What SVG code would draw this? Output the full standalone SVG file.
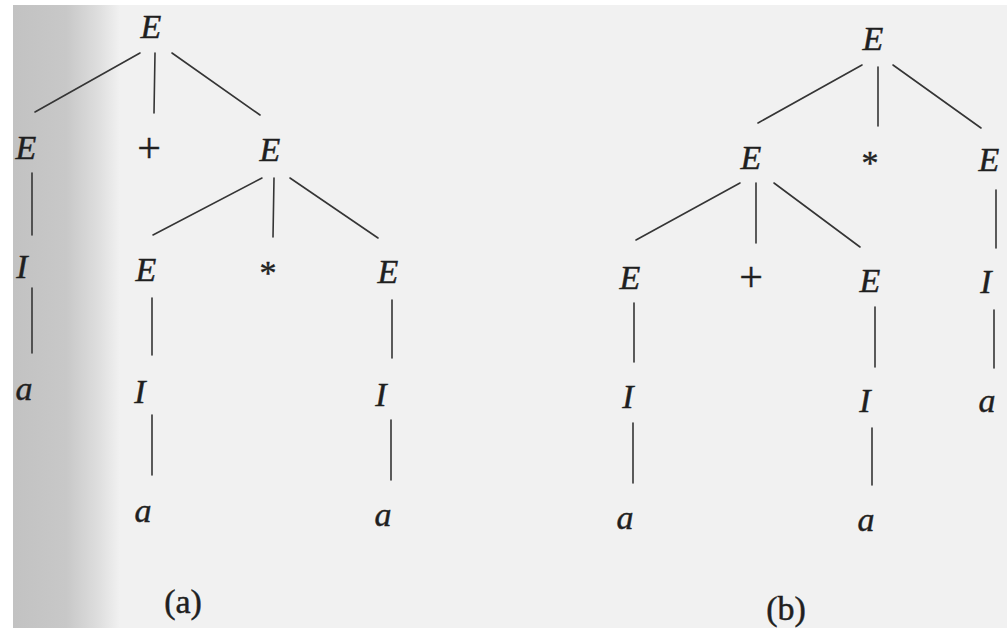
<svg xmlns="http://www.w3.org/2000/svg" width="1007" height="628" viewBox="0 0 1007 628">
  <defs>
    <linearGradient id="band" x1="13" y1="0" x2="120" y2="0" gradientUnits="userSpaceOnUse">
      <stop offset="0" stop-color="#c2c2c2"/>
      <stop offset="0.5" stop-color="#c8c8c8"/>
      <stop offset="0.8" stop-color="#dedede"/>
      <stop offset="1" stop-color="#f1f1f1"/>
    </linearGradient>
    <style>
      text { font-family: "Liberation Serif", "Times New Roman", serif; fill: #1f1f1f; stroke: #1f1f1f; stroke-width: 0.45; text-anchor: middle; }
      .v { font-style: italic; font-size: 34px; }
      .p { font-size: 42px; }
      .s { font-size: 34px; }
      .cap { font-size: 34px; }
      .edge { stroke: #353535; stroke-width: 1.6; fill: none; stroke-linecap: round; }
    </style>
  </defs>

  <!-- page background -->
  <rect x="0" y="0" width="1007" height="628" fill="#ffffff"/>
  <rect x="13" y="5" width="994" height="623" fill="#f1f1f1"/>
  <rect x="13" y="5" width="107" height="623" fill="url(#band)"/>

  <!-- connectors -->
  <g id="connectors" class="edge">
    <!-- tree (a) -->
    <line x1="140" y1="53" x2="35" y2="112"/>
    <line x1="155" y1="53" x2="154" y2="113"/>
    <line x1="172" y1="53" x2="260" y2="115"/>
    <line x1="32" y1="173" x2="32" y2="235"/>
    <line x1="32" y1="288" x2="32" y2="353"/>
    <line x1="262" y1="178" x2="153" y2="235"/>
    <line x1="274" y1="178" x2="273" y2="237"/>
    <line x1="290" y1="178" x2="378" y2="238"/>
    <line x1="152" y1="298" x2="152" y2="355"/>
    <line x1="152" y1="415" x2="152" y2="475"/>
    <line x1="392" y1="300" x2="392" y2="358"/>
    <line x1="391" y1="420" x2="391" y2="480"/>
    <!-- tree (b) -->
    <line x1="862" y1="65" x2="758" y2="123"/>
    <line x1="878" y1="67" x2="878" y2="126"/>
    <line x1="893" y1="65" x2="981" y2="128"/>
    <line x1="740" y1="183" x2="636" y2="240"/>
    <line x1="756" y1="183" x2="756" y2="243"/>
    <line x1="774" y1="183" x2="860" y2="247"/>
    <line x1="996" y1="190" x2="996" y2="248"/>
    <line x1="634" y1="303" x2="634" y2="362"/>
    <line x1="633" y1="423" x2="633" y2="483"/>
    <line x1="875" y1="307" x2="875" y2="367"/>
    <line x1="872" y1="428" x2="872" y2="485"/>
    <line x1="994" y1="310" x2="994" y2="368"/>
  </g>

  <!-- tree (a) nodes -->
  <g id="a-root"><text class="v" x="151" y="38">E</text></g>
  <g id="a-E1"><text class="v" x="26" y="159">E</text></g>
  <g id="a-plus"><text class="p" x="149" y="162">+</text></g>
  <g id="a-E2"><text class="v" x="270" y="161">E</text></g>
  <g id="a-I1"><text class="v" x="22" y="278">I</text></g>
  <g id="a-a1"><text class="v" x="24" y="400">a</text></g>
  <g id="a-E3"><text class="v" x="146" y="281">E</text></g>
  <g id="a-star"><text class="s" x="268" y="284">*</text></g>
  <g id="a-E4"><text class="v" x="388" y="283">E</text></g>
  <g id="a-I2"><text class="v" x="140" y="403">I</text></g>
  <g id="a-a2"><text class="v" x="143" y="522">a</text></g>
  <g id="a-I3"><text class="v" x="381" y="406">I</text></g>
  <g id="a-a3"><text class="v" x="383" y="526">a</text></g>
  <g id="a-caption"><text class="cap" x="183" y="613">(a)</text></g>

  <!-- tree (b) nodes -->
  <g id="b-root"><text class="v" x="873" y="50">E</text></g>
  <g id="b-E1"><text class="v" x="751" y="169">E</text></g>
  <g id="b-star"><text class="s" x="870" y="174">*</text></g>
  <g id="b-E2"><text class="v" x="989" y="171">E</text></g>
  <g id="b-E3"><text class="v" x="630" y="289">E</text></g>
  <g id="b-plus"><text class="p" x="751" y="291">+</text></g>
  <g id="b-E4"><text class="v" x="870" y="292">E</text></g>
  <g id="b-I1"><text class="v" x="986" y="293">I</text></g>
  <g id="b-I2"><text class="v" x="628" y="408">I</text></g>
  <g id="b-a2"><text class="v" x="625" y="529">a</text></g>
  <g id="b-I3"><text class="v" x="865" y="412">I</text></g>
  <g id="b-a3"><text class="v" x="866" y="531">a</text></g>
  <g id="b-a1"><text class="v" x="987" y="412">a</text></g>
  <g id="b-caption"><text class="cap" x="786" y="620">(b)</text></g>
</svg>
